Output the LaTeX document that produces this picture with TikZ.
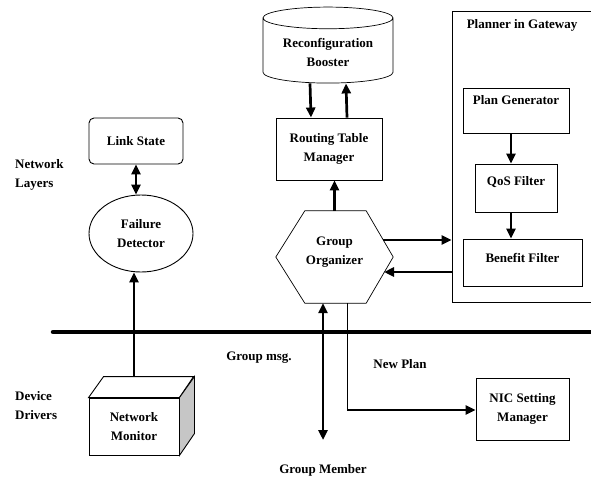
\documentclass[tikz,border=0pt]{standalone}
\usepackage{fontspec}
\setmainfont{Liberation Serif}
\usetikzlibrary{shapes,arrows.meta,positioning,calc}

\begin{document}
\begin{tikzpicture}[x=1pt,y=-1pt]
	\tikzstyle{Box}   = [rectangle, draw, line width=0.9pt, align=center, inner sep=2pt, font=\bfseries\fontsize{13}{19}\selectfont]
	\tikzstyle{Label} = [align=left, inner sep=0pt, font=\bfseries\fontsize{13}{19}\selectfont]
	\tikzstyle{Flow}  = [line width=2.7pt, -{Triangle[length=10pt,width=9pt]}]
	\tikzstyle{Both}  = [line width=2.7pt, {Triangle[length=10pt,width=9pt]}-{Triangle[length=10pt,width=9pt]}]
	\tikzstyle{Bus}   = [line width=4.5pt, line cap=round]

	\useasboundingbox (0,0) rectangle (591,479);

	% upper row
	\node (booster) at (328,52) [Box, cylinder, shape border rotate=90, aspect=0.23, line width=0.7pt, minimum width=130pt, minimum height=76pt] {Reconfiguration\\Booster};
	\node (rtm) at (329,149) [Box, minimum width=106pt, minimum height=62pt] {Routing Table\\Manager};
	\node (link) at (136,141) [Box, rounded corners=5pt, minimum width=94pt, minimum height=46pt] {Link State};
	\node (fail) at (141,233.5) [Box, ellipse, inner sep=0pt, minimum width=104pt, minimum height=77pt] {Failure\\Detector};

	% group organizer (hexagon)
	\node (org) at (334.5,257) [Label, align=center, minimum width=117pt, minimum height=92pt, text depth=12pt] {Group\\Organizer};
	\draw [line width=0.7pt] ([xshift=29pt]org.north west) -- ([xshift=-27pt]org.north east) -- (org.east)
		-- ([xshift=-27pt]org.south east) -- ([xshift=29pt]org.south west) -- (org.west) -- cycle;

	% planner
	\node (planner) at (522,156.5) [Box, minimum width=140pt, minimum height=291pt] {};
	\node (plannerlbl) at ($(planner.north west)+(15,9)$) [Label, anchor=north west] {Planner in Gateway};
	\node (pg) at (516,110.5) [Box, minimum width=106pt, minimum height=45pt, text depth=21pt] {Plan Generator};
	\node (qos) at (516,188) [Box, minimum width=82pt, minimum height=48pt, text depth=15pt] {QoS Filter};
	\node (benefit) at (522.5,262.5) [Box, minimum width=119pt, minimum height=47pt, text depth=9pt] {Benefit Filter};

	% device drivers
	\node (mon) at (134,426.5) [Box, minimum width=90pt, minimum height=57pt] {Network\\Monitor};
	\filldraw [fill=white, line width=0.9pt] (mon.north west) -- ++(15,-21) -- ++(90,0) -- (mon.north east) -- cycle;
	\filldraw [fill=gray!45, line width=0.9pt] (mon.north east) -- ++(15,-21) -- ++(0,57) -- (mon.south east) -- cycle;
	\node (nic) at (522.5,409) [Box, minimum width=93pt, minimum height=62pt] {NIC Setting\\Manager};

	% text labels
	\node (netlayers) at (15,175) [Label, anchor=west] {Network\\Layers};
	\node (devdrivers) at (15,405.5) [Label, anchor=west] {Device\\Drivers};
	\node (grpmsg) at (259,358) [Label] {Group msg.};
	\node (newplan) at (400,364) [Label] {New Plan};
	\node (grpmember) at (323,470) [Label] {Group Member};

	% bus
	\coordinate (busL) at (53,332);
	\coordinate (busR) at (600,332);
	\draw [Bus] (busL) -- (busR);

	% connectors
	\coordinate (monTop) at ($(mon.north)+(0,-21)$);
	\coordinate (orgOut) at (383,240);
	\coordinate (orgIn) at (384,272);
	\coordinate (member) at (323,440);
	\coordinate (npTurn) at (347,410);

	\draw [Both] (link.south) -- (link.south |- fail.north);
	\draw [Flow] (monTop) -- (monTop |- fail.south);
	\draw [Flow] ([xshift=-18pt]booster.south) -- ([xshift=-18pt]rtm.north);
	\draw [Flow] ([xshift=18pt]rtm.north) -- ([xshift=18pt]booster.south);
	\draw [Flow] (org.north) -- (org.north |- rtm.south);
	\draw [Flow] (orgOut) -- (orgOut -| planner.west);
	\draw [Flow] (orgIn -| planner.west) -- (orgIn);
	\draw [Flow] ([xshift=-5pt]pg.south) -- ([xshift=-5pt]qos.north);
	\draw [Flow] ([xshift=-5pt]qos.south) -- ([xshift=-5pt]qos.south |- benefit.north);
	\draw [Both] (member |- org.south) -- (member);
	\draw [line width=0.8pt] (npTurn |- org.south) -- (npTurn);
	\draw [Flow] (npTurn) -- (npTurn -| nic.west);
\end{tikzpicture}
\end{document}
